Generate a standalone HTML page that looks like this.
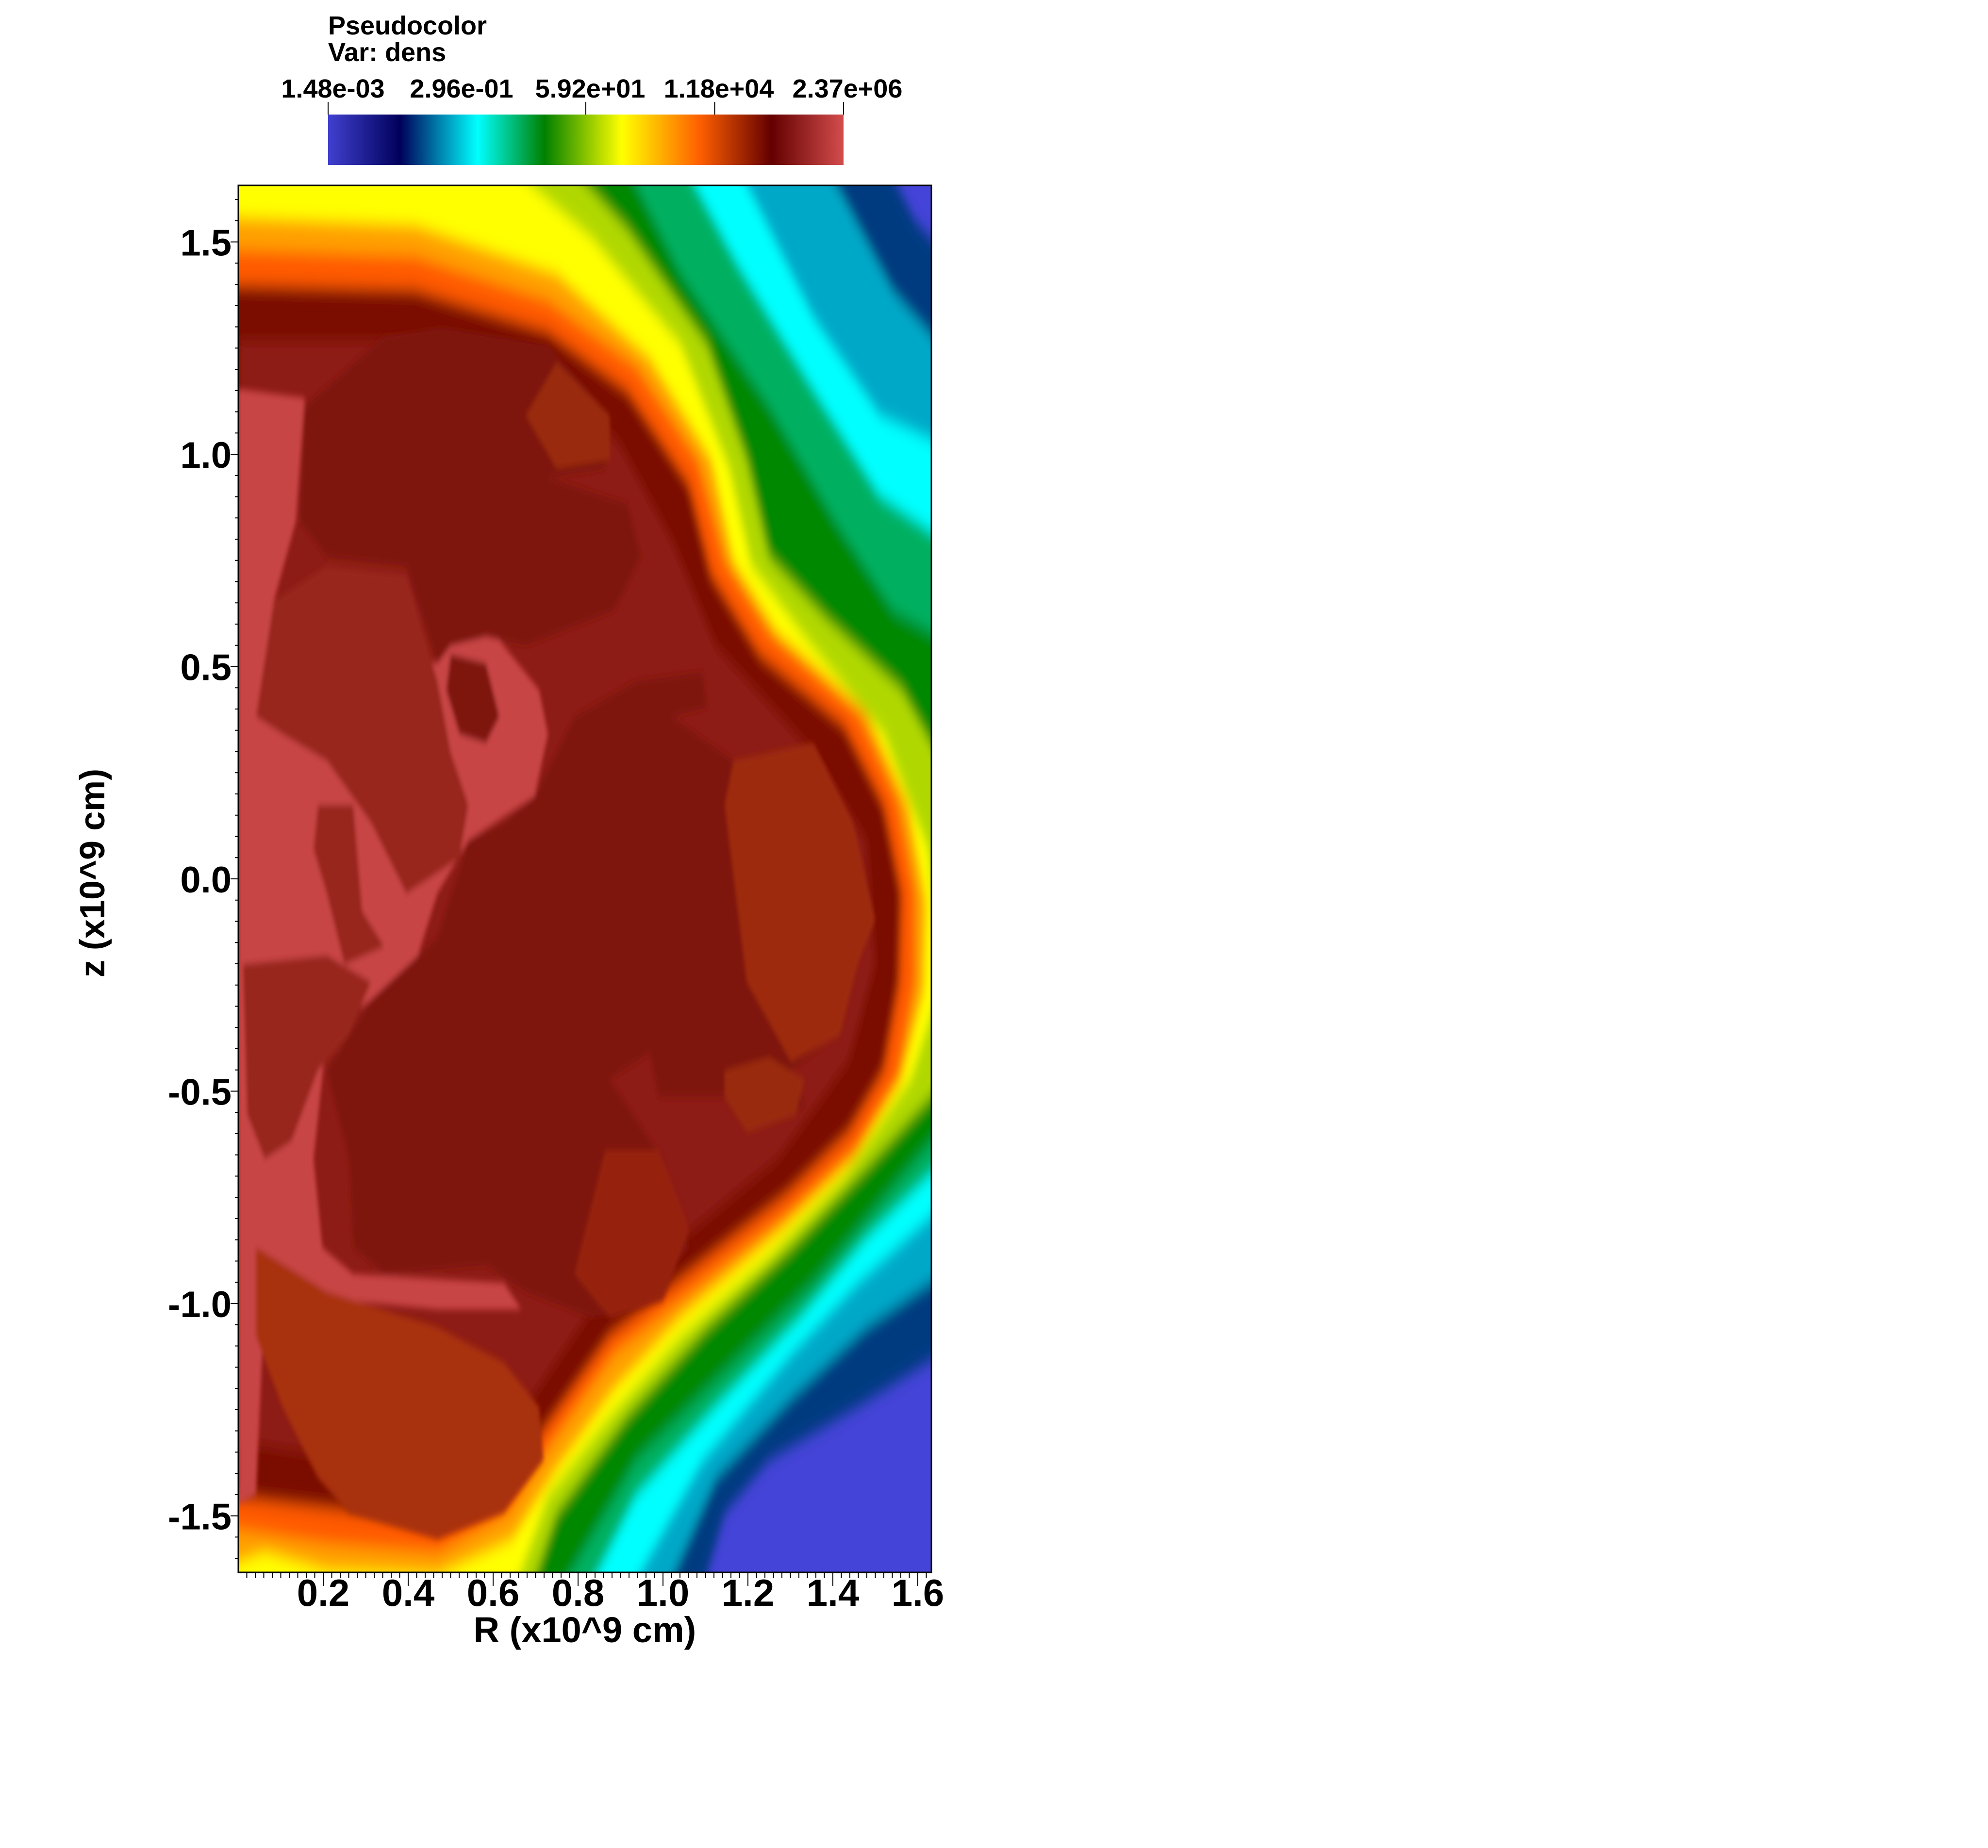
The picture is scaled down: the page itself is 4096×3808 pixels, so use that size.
<!DOCTYPE html>
<html><head><meta charset="utf-8"><style>
html,body{margin:0;padding:0;background:#fff;}
svg{display:block;}
text{font-family:"Liberation Sans",sans-serif;font-weight:bold;fill:#000;}
</style></head><body>
<svg id="root" width="4096" height="3808" viewBox="0 0 4096 3808" xmlns="http://www.w3.org/2000/svg">
<defs>
<linearGradient id="cbar" x1="0" x2="1" y1="0" y2="0">
<stop offset="0" stop-color="#4040d0"/><stop offset="0.14" stop-color="#00005a"/>
<stop offset="0.29" stop-color="#00ffff"/><stop offset="0.42" stop-color="#008000"/>
<stop offset="0.57" stop-color="#ffff00"/><stop offset="0.72" stop-color="#ff6000"/>
<stop offset="0.86" stop-color="#640000"/><stop offset="1" stop-color="#d44c4c"/>
</linearGradient>
<filter id="blur" x="-10%" y="-10%" width="120%" height="120%"><feGaussianBlur stdDeviation="9"/></filter>
<filter id="blur2"><feGaussianBlur stdDeviation="4"/></filter>
<clipPath id="clip"><rect x="0" y="0" width="1567" height="1567"/></clipPath>
</defs>

<text x="676" y="71" font-size="54">Pseudocolor</text>
<text x="676" y="126" font-size="54">Var: dens</text>
<rect x="676" y="236" width="1062" height="104" fill="url(#cbar)"/>
<g id="cbticks"></g>

<svg x="491" y="382" width="1428" height="2858" viewBox="0 0 1567 1567" preserveAspectRatio="none">
<g clip-path="url(#clip)">
<rect x="0" y="0" width="1567" height="1567" fill="#4444d8"/>
<g filter="url(#blur)">
<path fill="#003a80" d="M1440,-50 L1530,40 L1620,90 L1620,1310 L1400,1380 L1200,1440 L1100,1500 L1030,1620 L-50,1620 L-50,-50Z"/>
<path fill="#00a8c8" d="M1300,-50 L1480,120 L1620,200 L1620,1220 L1420,1290 L1250,1370 L1080,1460 L940,1620 L-50,1620 L-50,-50Z"/>
<path fill="#00ffff" d="M1100,-50 L1300,150 L1450,260 L1620,300 L1620,1140 L1400,1240 L1250,1320 L1050,1440 L850,1620 L-50,1620 L-50,-50Z"/>
<path fill="#00b060" d="M980,-50 L1130,90 L1300,230 L1450,350 L1620,410 L1620,1090 L1420,1190 L1270,1280 L1080,1380 L900,1480 L760,1620 L-50,1620 L-50,-50Z"/>
<path fill="#008800" d="M850,-50 L1000,100 L1200,250 L1350,380 L1480,480 L1620,520 L1620,1050 L1450,1150 L1300,1240 L1100,1340 L900,1440 L690,1620 L-50,1620 L-50,-50Z"/>
<path fill="#b0d800" d="M700,-50 L880,50 L1060,180 L1150,310 L1200,420 L1330,490 L1500,570 L1620,680 L1620,1000 L1420,1110 L1250,1200 L1060,1290 L880,1390 L720,1500 L640,1620 L-50,1620 L-50,-50Z"/>
<path fill="#ffff00" d="M-50,-50 L550,-50 L800,60 L1000,180 L1110,320 L1160,430 L1280,510 L1460,620 L1560,750 L1590,900 L1520,1010 L1370,1120 L1200,1210 L1000,1300 L840,1390 L700,1480 L600,1620 L-50,1620Z"/>
<path fill="#ffa000" d="M-50,35 L400,45 L720,100 L930,195 L1070,310 L1120,425 L1220,505 L1420,595 L1515,700 L1555,810 L1550,910 L1500,1010 L1390,1100 L1230,1180 L1000,1280 L850,1360 L720,1450 L620,1530 L450,1570 L200,1565 L60,1545 L-50,1565Z"/>
<path fill="#ff5a00" d="M-50,72 L400,80 L700,130 L900,205 L1040,312 L1100,425 L1200,505 L1400,595 L1490,695 L1530,800 L1530,900 L1490,1010 L1400,1090 L1250,1160 L1000,1260 L850,1320 L710,1420 L610,1500 L450,1545 L200,1535 L-50,1515Z"/>
<path fill="#7a0a06" d="M-50,112 L400,118 L700,165 L880,232 L1020,338 L1070,440 L1180,530 L1370,610 L1460,700 L1500,800 L1495,900 L1460,1000 L1380,1070 L1240,1140 L990,1240 L840,1300 L700,1400 L600,1470 L450,1510 L200,1495 L-50,1480Z"/>
</g>
<path fill="#8e1a16" filter="url(#blur)" d="M0,175 L400,175 L700,215 L860,290 L980,400 L1080,520 L1300,640 L1420,740 L1440,880 L1380,990 L1220,1100 L980,1200 L800,1270 L650,1380 L500,1440 L250,1440 L0,1420Z"/>
<g filter="url(#blur2)">
<path fill="#c84444" d="M0,230 L150,240 L130,380 L80,470 L300,520 L450,540 L520,470 L600,520 L680,570 L700,620 L670,690 L520,740 L450,800 L400,880 L300,920 L200,960 L170,1100 L190,1200 L260,1230 L600,1240 L640,1270 L450,1270 L250,1260 L60,1250 L40,1480 L0,1490Z"/>
<path fill="#7f1410" d="M150,250 L330,170 L460,160 L700,180 L840,260 L830,320 L700,330 L880,360 L910,420 L850,480 L650,520 L560,510 L480,520 L450,540 L380,430 L200,420 L140,380Z"/>
<path fill="#7f1410" d="M480,530 L560,540 L590,600 L560,630 L500,620 L470,570Z"/>
<path fill="#98261e" d="M80,470 L200,430 L380,440 L450,560 L480,640 L520,700 L500,760 L380,800 L300,720 L200,650 L100,620 L40,600Z"/>
<path fill="#98261e" d="M180,700 L260,700 L280,820 L330,860 L240,880 L200,800 L170,750Z"/>
<path fill="#7f1410" d="M670,690 L760,600 L900,560 L1050,550 L1060,590 L980,600 L1120,650 L1300,660 L1390,720 L1440,830 L1380,880 L1350,960 L1250,1000 L1280,1040 L1150,1070 L1100,1030 L950,1030 L930,980 L840,1010 L960,1100 L1020,1200 L900,1270 L800,1280 L650,1250 L560,1220 L330,1230 L260,1200 L250,1100 L200,1000 L300,920 L450,850 L520,740 L600,720Z"/>
<path fill="#98261e" d="M10,880 L200,870 L300,900 L250,960 L180,1000 L120,1080 L60,1100 L20,1050Z"/>
<path fill="#9e2a0c" d="M1120,650 L1300,630 L1390,720 L1440,830 L1400,880 L1360,960 L1250,990 L1150,900 L1100,700Z"/>
<path fill="#9a2a0c" d="M1100,1000 L1200,985 L1280,1010 L1260,1050 L1150,1070 L1100,1030Z"/>
<path fill="#9a2a0c" d="M720,200 L840,260 L840,310 L720,320 L650,260Z"/>
<path fill="#a8300a" d="M40,1200 L200,1250 L450,1290 L600,1330 L680,1380 L690,1440 L600,1500 L450,1530 L250,1500 L180,1460 L100,1380 L40,1300Z"/>
<path fill="#96240e" d="M830,1090 L950,1090 L1020,1180 L960,1260 L840,1280 L760,1230 L800,1150Z"/>
</g>
</g>
</svg>
<rect x="491" y="382" width="1428" height="2858" fill="none" stroke="#000" stroke-width="3"/>
<g id="xaxis"></g>
<g id="yaxis"></g>
<text x="1205" y="3384" font-size="74" text-anchor="middle">R (x10^9 cm)</text>
<text transform="translate(215,1799) rotate(-90)" font-size="72" text-anchor="middle">z (x10^9 cm)</text>
</svg>
<script>
const xTicks=[0.2,0.4,0.6,0.8,1.0,1.2,1.4,1.6];
const yTicks=[1.5,1.0,0.5,0.0,-0.5,-1.0,-1.5];
const cbLabels=["1.48e-03","2.96e-01","5.92e+01","1.18e+04","2.37e+06"];
const cbTickFrac=[0,0.5,0.75,1];
const NS="http://www.w3.org/2000/svg";
const X0=491,PX=875,Y0=1811,XMAX=1.632,ZMAX=1.633;
function sx(v){return X0+v*PX;}
function sy(v){return Y0-v*PX;}
function mk(tag,attrs,parent){const e=document.createElementNS(NS,tag);for(const k in attrs)e.setAttribute(k,attrs[k]);parent.appendChild(e);return e;}
const xa=document.getElementById('xaxis'),ya=document.getElementById('yaxis'),cb=document.getElementById('cbticks');
for(let i=1;i*0.02<=XMAX;i++){const v=i*0.02;const major=(i%10===0);
 const l=mk('line',{x1:sx(v),x2:sx(v),y1:3240,y2:major?3268:3252,stroke:'#000','stroke-width':2},xa);
 
 }
xTicks.forEach(v=>{const t=mk('text',{x:sx(v),y:3309,'font-size':78,'text-anchor':'middle'},xa);t.textContent=v.toFixed(1);
 
 });
for(let i=-32;i<=32;i++){const v=i*0.05;const major=(i%10===0);
 const l=mk('line',{x1:major?475:484,x2:491,y1:sy(v),y2:sy(v),stroke:'#000','stroke-width':2},ya);
 
 }
yTicks.forEach(v=>{const t=mk('text',{x:477,y:sy(v)+28,'font-size':76,'text-anchor':'end'},ya);t.textContent=v.toFixed(1);
 
 });
cbTickFrac.forEach(f=>{const x=676+f*1062;const l=mk('line',{x1:x,x2:x,y1:210,y2:236,stroke:'#000','stroke-width':2},cb);
 
 });
cbLabels.forEach((s,i)=>{const t=mk('text',{x:686+i*265,y:201,'font-size':54,'text-anchor':'middle'},cb);t.textContent=s;
 
 });
</script>
</body></html>
